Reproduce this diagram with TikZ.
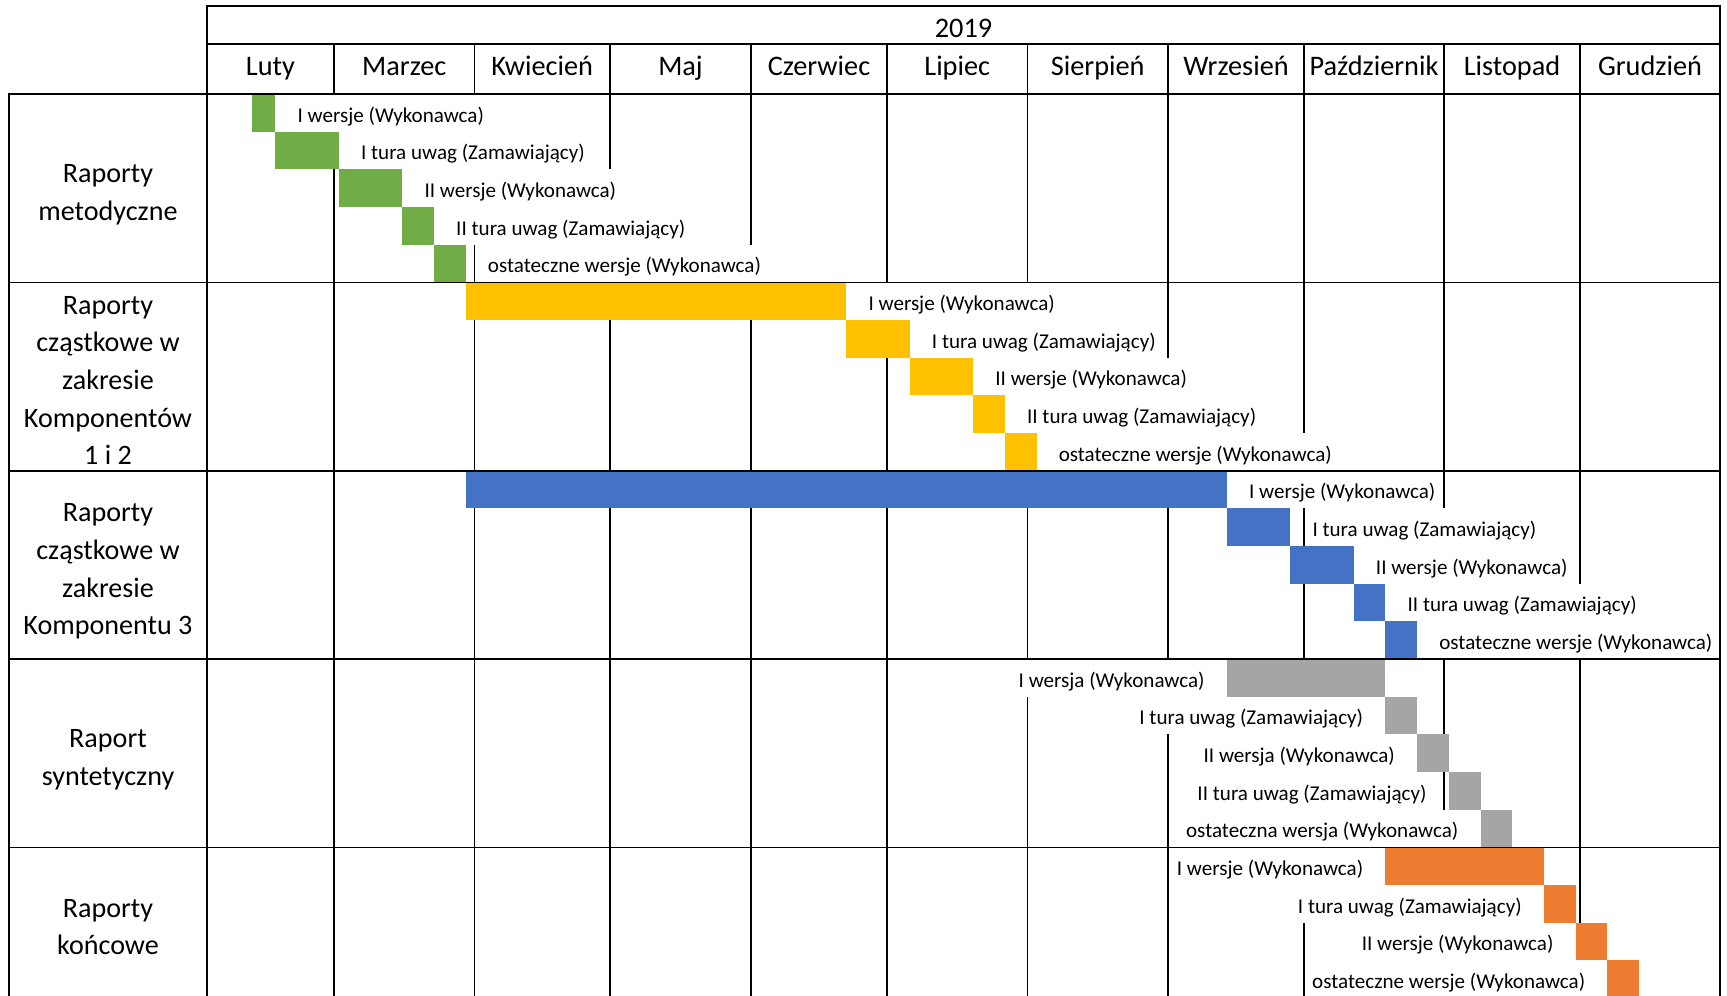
\documentclass[tikz,border=0pt]{standalone}
\usepackage{fontspec}
\setmainfont{Carlito}
\definecolor{xlgreen}{RGB}{112,173,71}
\definecolor{xlgold}{RGB}{255,192,0}
\definecolor{xlblue}{RGB}{68,114,196}
\definecolor{xlgray}{RGB}{165,165,165}
\definecolor{xlorange}{RGB}{237,125,49}

\begin{document}
\begin{tikzpicture}[
  x=0.02cm, y=-0.02cm,
  gridline/.style={line width=1pt, draw=black, line cap=rect},
  head/.style={font=\fontsize{16.1}{21.4}\selectfont, inner sep=0pt,
    text height=11.2pt, text depth=3.2pt},
  rowhead/.style={font=\fontsize{16}{21.4}\selectfont, align=center, inner sep=0pt},
  task/.style={font=\fontsize{12}{14}\selectfont, fill=white, inner xsep=2pt, inner ysep=0pt,
    minimum height=0.7536cm, text height=11.2pt, text depth=0.6pt},
  lblright/.style={task, anchor=west},
  lblleft/.style={task, anchor=east},
]
  \useasboundingbox (0,0) rectangle (1727,995);

  % month separators
  \draw[gridline] (334,44) -- (334,995) (474.5,44) -- (474.5,995) (610,44) -- (610,995)
    (751,44) -- (751,995) (887,44) -- (887,995) (1027.5,44) -- (1027.5,995)
    (1168,44) -- (1168,995) (1304,44) -- (1304,995) (1444,44) -- (1444,995)
    (1580,44) -- (1580,995);

  % schedule: one x step per period, one y step per task line
  \begin{scope}[shift={(275.4,94)}, x=0.6344cm, y=-0.7536cm]
    \fill[xlgreen] (-0.75,0) rectangle (0,1);
    \fill[xlgreen] (0,1) rectangle (2,2);
    \fill[xlgreen] (2,2) rectangle (4,3);
    \fill[xlgreen] (4,3) rectangle (5,4);
    \fill[xlgreen] (5,4) rectangle (6,5);
    \node[lblright] (g1) at (0.58,0.5) {I wersje (Wykonawca)};
    \node[lblright] (g2) at (2.58,1.5) {I tura uwag (Zamawiający)};
    \node[lblright] (g3) at (4.58,2.5) {II wersje (Wykonawca)};
    \node[lblright] (g4) at (5.58,3.5) {II tura uwag (Zamawiający)};
    \node[lblright] (g5) at (6.58,4.5) {ostateczne wersje (Wykonawca)};

    \fill[xlgold] (6,5) rectangle (18,6);
    \fill[xlgold] (18,6) rectangle (20,7);
    \fill[xlgold] (20,7) rectangle (22,8);
    \fill[xlgold] (22,8) rectangle (23,9);
    \fill[xlgold] (23,9) rectangle (24,10);
    \node[lblright] (y1) at (18.58,5.5) {I wersje (Wykonawca)};
    \node[lblright] (y2) at (20.58,6.5) {I tura uwag (Zamawiający)};
    \node[lblright] (y3) at (22.58,7.5) {II wersje (Wykonawca)};
    \node[lblright] (y4) at (23.58,8.5) {II tura uwag (Zamawiający)};
    \node[lblright] (y5) at (24.58,9.5) {ostateczne wersje (Wykonawca)};

    \fill[xlblue] (6,10) rectangle (30,11);
    \fill[xlblue] (30,11) rectangle (32,12);
    \fill[xlblue] (32,12) rectangle (34,13);
    \fill[xlblue] (34,13) rectangle (35,14);
    \fill[xlblue] (35,14) rectangle (36,15);
    \node[lblright] (b1) at (30.58,10.5) {I wersje (Wykonawca)};
    \node[lblright] (b2) at (32.58,11.5) {I tura uwag (Zamawiający)};
    \node[lblright] (b3) at (34.58,12.5) {II wersje (Wykonawca)};
    \node[lblright] (b4) at (35.58,13.5) {II tura uwag (Zamawiający)};
    \node[lblright] (b5) at (36.58,14.5) {ostateczne wersje (Wykonawca)};

    \fill[xlgray] (30,15) rectangle (35,16);
    \fill[xlgray] (35,16) rectangle (36,17);
    \fill[xlgray] (36,17) rectangle (37,18);
    \fill[xlgray] (37,18) rectangle (38,19);
    \fill[xlgray] (38,19) rectangle (39,20);
    \node[lblleft] (s1) at (29.42,15.5) {I wersja (Wykonawca)};
    \node[lblleft] (s2) at (34.42,16.5) {I tura uwag (Zamawiający)};
    \node[lblleft] (s3) at (35.42,17.5) {II wersja (Wykonawca)};
    \node[lblleft] (s4) at (36.42,18.5) {II tura uwag (Zamawiający)};
    \node[lblleft] (s5) at (37.42,19.5) {ostateczna wersja (Wykonawca)};

    \fill[xlorange] (35,20) rectangle (40,21);
    \fill[xlorange] (40,21) rectangle (41,22);
    \fill[xlorange] (41,22) rectangle (42,23);
    \fill[xlorange] (42,23) rectangle (43,24);
    \node[lblleft] (k1) at (34.42,20.5) {I wersje (Wykonawca)};
    \node[lblleft] (k2) at (39.42,21.5) {I tura uwag (Zamawiający)};
    \node[lblleft] (k3) at (40.42,22.5) {II wersje (Wykonawca)};
    \node[lblleft] (k4) at (41.42,23.5) {ostateczne wersje (Wykonawca)};
  \end{scope}

  % table frame
  \draw[gridline] (207,6) -- (1720,6) (207,44) -- (1720,44) (9,94) -- (1720,94)
    (9,282.4) -- (1720,282.4) (9,470.8) -- (1720,470.8) (9,659.2) -- (1720,659.2)
    (9,847.6) -- (1720,847.6);
  \draw[gridline] (9,94) -- (9,995) (207,6) -- (207,995) (1720,6) -- (1720,995);

  % headers
  \node[head] (rok) at (963.5,30) {2019};
  \node[head] (luty) at (270.5,68.5) {Luty};
  \node[head] (marzec) at (404.25,68.5) {Marzec};
  \node[head] (kwiecien) at (542.25,68.5) {Kwiecień};
  \node[head] (maj) at (680.5,68.5) {Maj};
  \node[head] (czerwiec) at (819,68.5) {Czerwiec};
  \node[head] (lipiec) at (957.25,68.5) {Lipiec};
  \node[head] (sierpien) at (1097.75,68.5) {Sierpień};
  \node[head] (wrzesien) at (1236,68.5) {Wrzesień};
  \node[head] (pazdziernik) at (1374,68.5) {Październik};
  \node[head] (listopad) at (1512,68.5) {Listopad};
  \node[head] (grudzien) at (1650,68.5) {Grudzień};

  \node[rowhead] (metod) at (108,195) {Raporty\\metodyczne};
  \node[rowhead] (komp12) at (108,380.5) {Raporty\\cząstkowe w\\zakresie\\Komponentów\\1 i 2};
  \node[rowhead] (komp3) at (108,571.6) {Raporty\\cząstkowe w\\zakresie\\Komponentu 3};
  \node[rowhead] (synt) at (108,760) {Raport\\syntetyczny};
  \node[rowhead] (konc) at (108,927) {Raporty\\końcowe};
\end{tikzpicture}
\end{document}
